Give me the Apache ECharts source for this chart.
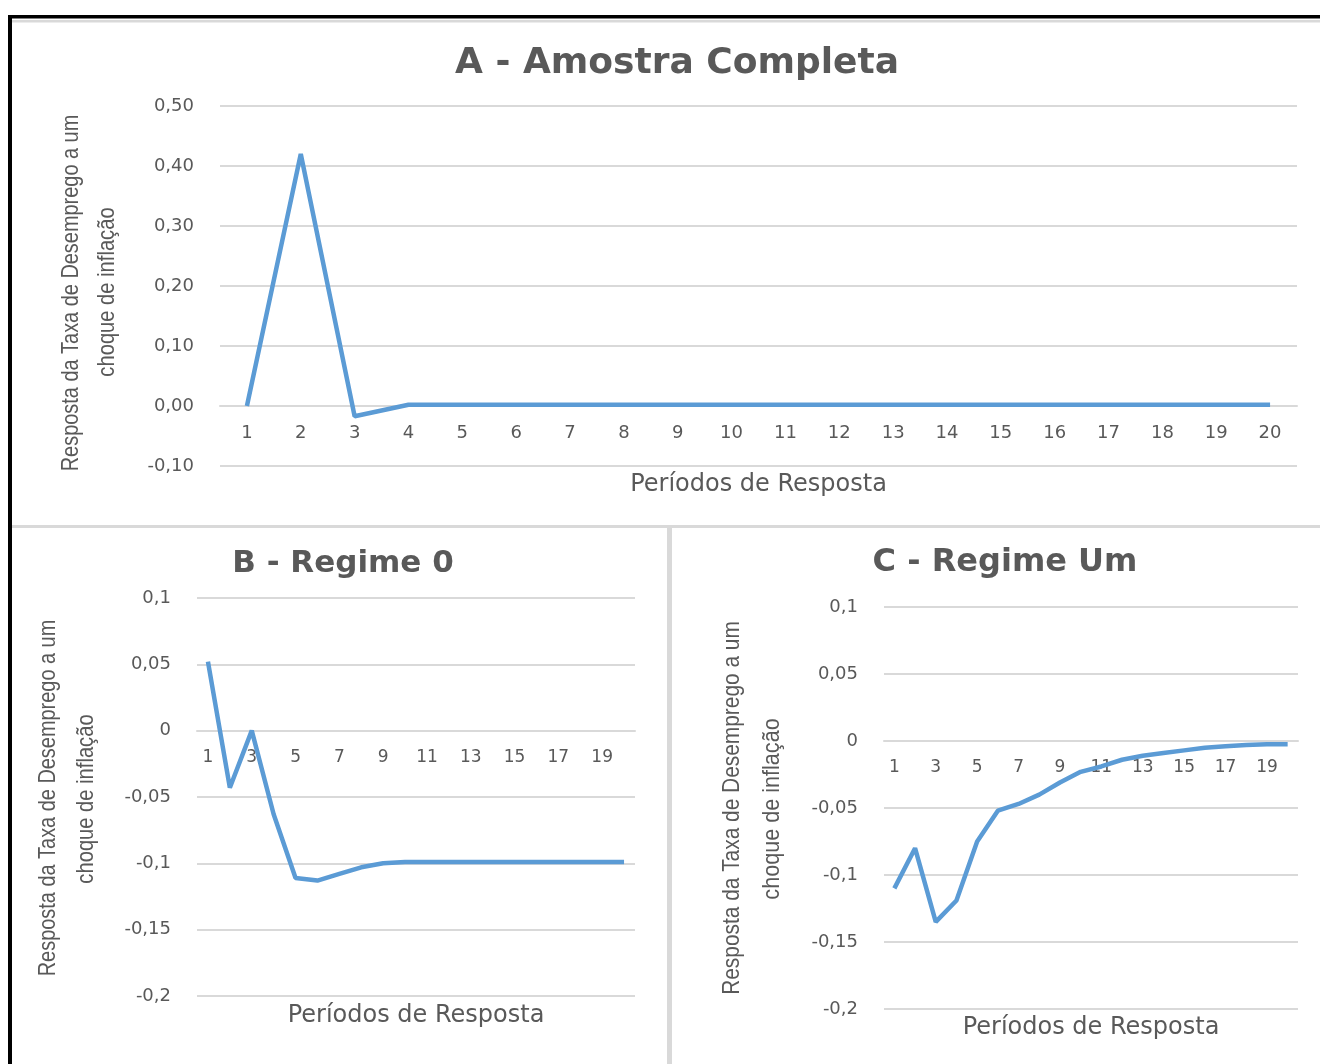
<!DOCTYPE html>
<html>
<head>
<meta charset="utf-8">
<title>Resposta da Taxa de Desemprego</title>
<script src="https://cdn.jsdelivr.net/npm/echarts@6/dist/echarts.min.js"></script>
<style>
  html, body { margin: 0; padding: 0; background: #fff; }
  #chart { width: 1320px; height: 1064px; }
</style>
</head>
<body>
<div id="chart"></div>
<script>
// categorias (períodos de resposta)
var periodos = ['1', '2', '3', '4', '5', '6', '7', '8', '9', '10',
  '11', '12', '13', '14', '15', '16', '17', '18', '19', '20']

// A - Amostra Completa
var amostraCompleta = [0, 0.42, -0.017, 0.002, 0.002, 0.002, 0.002, 0.002, 0.002, 0.002,
  0.002, 0.002, 0.002, 0.002, 0.002, 0.002, 0.002, 0.002, 0.002, 0.002]
// B - Regime 0
var regimeZero = [0.052, -0.043, 0.0, -0.063, -0.111, -0.113, -0.108, -0.103, -0.1, -0.099,
  -0.099, -0.099, -0.099, -0.099, -0.099, -0.099, -0.099, -0.099, -0.099, -0.099]
// C - Regime Um
var regimeUm = [-0.11, -0.08, -0.135, -0.119, -0.075, -0.052, -0.047, -0.04, -0.031, -0.023,
  -0.019, -0.014, -0.011, -0.009, -0.007, -0.005, -0.004, -0.003, -0.0025, -0.0025]

// textos
var tituloA = 'A - Amostra Completa'
var tituloB = 'B - Regime 0'
var tituloC = 'C - Regime Um'
var nomeEixoX = 'Períodos de Resposta'
var nomeEixoY1 = 'Resposta da Taxa de Desemprego a um'
var nomeEixoY2 = 'choque de inflação'

var cinza = '#595959'
var grade = '#D9D9D9'
var azul = '#5B9BD5'

function rotuloA(v) {
  return v.toFixed(2).replace('.', ',').replace('-0,00', '0,00')
}
function rotuloBC(v) {
  var s = String(Math.round(v * 100) / 100)
  return s.replace('.', ',')
}

// eixo x posicionado na linha do zero (offset a partir da base do grid)
function eixoX(idx, desloc, gap, intervalo, fonte) {
  return {
    type: 'category',
    gridIndex: idx,
    data: periodos,
    boundaryGap: true,
    position: 'bottom',
    offset: desloc,
    name: nomeEixoX,
    nameLocation: 'middle',
    nameGap: gap,
    nameTextStyle: { color: cinza, fontSize: 24, fontFamily: 'DejaVu Sans' },
    axisLine: { onZero: false, lineStyle: { color: grade, width: 2 } },
    axisTick: { show: false },
    axisLabel: {
      interval: intervalo,
      color: cinza,
      fontSize: fonte,
      fontFamily: 'DejaVu Sans',
      margin: 18
    },
    splitLine: { show: false }
  }
}

function eixoY(idx, min, max, step, fmt) {
  return {
    type: 'value',
    gridIndex: idx,
    min: min,
    max: max,
    interval: step,
    axisLine: { show: false },
    axisTick: { show: false },
    axisLabel: {
      color: cinza,
      fontSize: 18,
      fontFamily: 'DejaVu Sans',
      margin: 26,
      formatter: fmt
    },
    splitLine: { lineStyle: { color: grade, width: 2 } }
  }
}

function linha(idx, dados) {
  return {
    type: 'line',
    xAxisIndex: idx,
    yAxisIndex: idx,
    data: dados,
    showSymbol: false,
    smooth: false,
    lineStyle: { color: azul, width: 4.5 },
    itemStyle: { color: azul },
    animation: false
  }
}

// nome do eixo y em duas linhas, girado
function nomeY(texto, x, y, escala) {
  return {
    type: 'text',
    x: x,
    y: y,
    rotation: Math.PI / 2,
    scaleX: escala,
    style: {
      text: texto,
      fill: cinza,
      font: '24px "Liberation Sans"',
      textAlign: 'center',
      textVerticalAlign: 'middle'
    }
  }
}

var chart = echarts.init(document.getElementById('chart'))
chart.setOption({
  backgroundColor: '#fff',
  animation: false,
  title: [
    { text: tituloA, left: 672, top: 41, textAlign: 'center',
      textStyle: { color: cinza, fontSize: 36, fontWeight: 'bold', fontFamily: 'DejaVu Sans' } },
    { text: tituloB, left: 338, top: 543, textAlign: 'center',
      textStyle: { color: cinza, fontSize: 31, fontWeight: 'bold', fontFamily: 'DejaVu Sans' } },
    { text: tituloC, left: 1000, top: 542, textAlign: 'center',
      textStyle: { color: cinza, fontSize: 32, fontWeight: 'bold', fontFamily: 'DejaVu Sans' } }
  ],
  grid: [
    { left: 220, top: 106, width: 1077, height: 360, outerBoundsMode: 'none' },
    { left: 197, top: 598, width: 438, height: 398, outerBoundsMode: 'none' },
    { left: 884, top: 607, width: 414, height: 402, outerBoundsMode: 'none' }
  ],
  xAxis: [
    eixoX(0, -60, 67, 0, 18),
    eixoX(1, -265, 273, 1, 17),
    eixoX(2, -268, 275, 1, 17)
  ],
  yAxis: [
    eixoY(0, -0.1, 0.5, 0.1, rotuloA),
    eixoY(1, -0.2, 0.1, 0.05, rotuloBC),
    eixoY(2, -0.2, 0.1, 0.05, rotuloBC)
  ],
  series: [
    linha(0, amostraCompleta),
    linha(1, regimeZero),
    linha(2, regimeUm)
  ],
  graphic: [
    // moldura preta da figura
    { type: 'rect', shape: { x: 8, y: 15, width: 1312, height: 3.5 }, style: { fill: '#000' } },
    { type: 'rect', shape: { x: 8, y: 15, width: 4, height: 1049 }, style: { fill: '#000' } },
    // bordas cinza dos gráficos
    { type: 'rect', shape: { x: 12, y: 20, width: 1308, height: 2.5 }, style: { fill: grade } },
    { type: 'rect', shape: { x: 12, y: 525, width: 1308, height: 3 }, style: { fill: grade } },
    { type: 'rect', shape: { x: 667, y: 527, width: 5, height: 537 }, style: { fill: grade } },
    // nomes dos eixos y
    nomeY(nomeEixoY1, 71, 293, 0.83),
    nomeY(nomeEixoY2, 107, 292, 0.84),
    nomeY(nomeEixoY1, 48, 798, 0.83),
    nomeY(nomeEixoY2, 86, 799, 0.84),
    nomeY(nomeEixoY1, 732, 808, 0.87),
    nomeY(nomeEixoY2, 772, 809, 0.9)
  ]
})
</script>
</body>
</html>
